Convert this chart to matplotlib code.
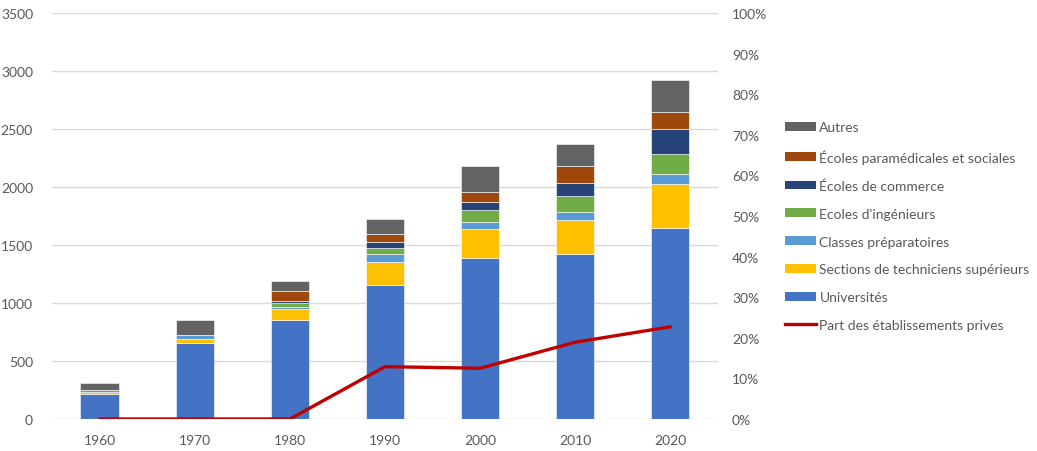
import matplotlib.pyplot as plt
from matplotlib.patches import Patch
from matplotlib.lines import Line2D
from matplotlib.ticker import PercentFormatter
import numpy as np

plt.rcParams['font.family'] = ['Lato', 'DejaVu Sans']

years = ["1960", "1970", "1980", "1990", "2000", "2010", "2020"]

# effectifs (milliers)
universites = [215, 658, 851, 1152, 1388, 1422, 1649]
sts = [15, 35, 97, 203, 250, 293, 377]
cpge = [17, 32, 22, 64, 63, 72, 84]
ingenieurs = [0, 0, 26, 57, 101, 133, 175]
commerce = [0, 0, 21, 52, 66, 117, 216]
paramedical = [0, 0, 83, 66, 91, 141, 144]
autres = [65, 129, 90, 129, 219, 192, 279]

part_privee = [0.0, 0.0, 0.0, 0.129, 0.125, 0.189, 0.227]

series = [
    ("Universités", universites, "#4472C4"),
    ("Sections de techniciens supérieurs", sts, "#FFC000"),
    ("Classes préparatoires", cpge, "#5B9BD5"),
    ("Ecoles d'ingénieurs", ingenieurs, "#70AD47"),
    ("Écoles de commerce", commerce, "#264478"),
    ("Écoles paramédicales et sociales", paramedical, "#9E480E"),
    ("Autres", autres, "#636363"),
]
line_label = "Part des établissements prives"
line_color = "#C00000"
text_color = "#595959"

fig = plt.figure(figsize=(10.37, 4.52), dpi=100)
ax = fig.add_axes([0.0506, 0.0708, 0.6413, 0.898])

x = np.arange(len(years))
bottom = np.zeros(len(years))
handles = []
for label, vals, color in series:
    ax.bar(x, vals, 0.41, bottom=bottom, color=color,
           edgecolor="white", linewidth=0.4, zorder=2)
    bottom += np.array(vals)
    handles.append(Patch(facecolor=color, label=label))

ax.set_xlim(-0.5, len(years) - 0.5)
ax.set_ylim(0, 3500)
ax.set_yticks(range(0, 3501, 500))
ax.set_xticks(x)
ax.set_xticklabels(years)
ax.grid(axis="y", color="#D9D9D9", linewidth=1, zorder=0)
ax.set_axisbelow(True)
for s in ax.spines.values():
    s.set_visible(False)
ax.tick_params(length=0, colors=text_color, labelsize=10)
ax.tick_params(axis="y", pad=14)
ax.tick_params(axis="x", pad=10.5)

ax2 = ax.twinx()
ax2.plot(x, part_privee, color=line_color, linewidth=2.4, zorder=5)
ax2.set_ylim(0, 1)
ax2.set_yticks(np.arange(0, 1.01, 0.1))
ax2.yaxis.set_major_formatter(PercentFormatter(1.0, decimals=0))
for s in ax2.spines.values():
    s.set_visible(False)
ax2.tick_params(length=0, colors=text_color, labelsize=10, pad=10.5)

handles = handles[::-1] + [Line2D([0], [0], color=line_color, linewidth=2.4, label=line_label)]
fig.legend(handles=handles, loc="upper left", bbox_to_anchor=(0.752, 0.742),
           frameon=False, fontsize=10, labelcolor=text_color,
           handlelength=2.2, handleheight=0.6, handletextpad=0.25,
           labelspacing=1.14, borderaxespad=0)

fig.savefig("out.png", dpi=100)
